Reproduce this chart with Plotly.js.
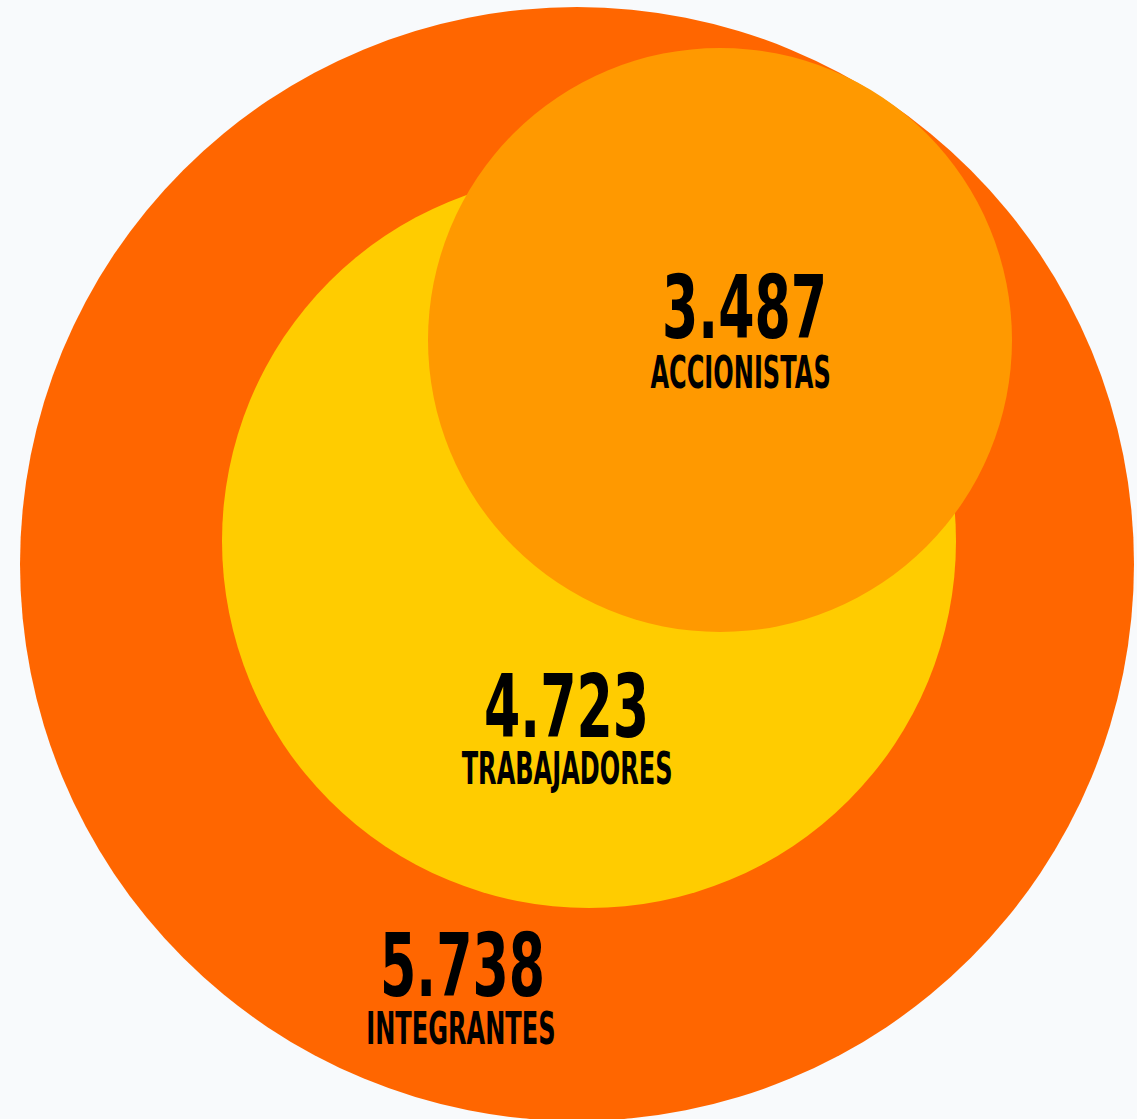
<!DOCTYPE html>
<html>
<head>
<meta charset="utf-8">
<script src="https://cdn.plot.ly/plotly-3.0.1.min.js"></script>
<style>
html,body{margin:0;padding:0;background:#F8FAFC;}
#chart{width:1137px;height:1119px;}
</style>
</head>
<body>
<div id="chart"></div>
<script>
// Data
const categories = ['INTEGRANTES', 'TRABAJADORES', 'ACCIONISTAS'];
const values = [5738, 4723, 3487];
const colors = ['#FF6600', '#FFCC00', '#FF9900'];

// Layout geometry (circle centre / radius in plot units, label anchors)
const circleCx = [577, 589, 720];
const circleCy = [564, 541, 340];
const circleR  = [557, 367, 292];
const numberX  = [462, 566, 744];
const numberY  = [966, 707, 308];
const nameX    = [461, 567, 740];
const nameY    = [1028, 768, 372];

const NUM_SIZE = 87, NAME_SIZE = 45;
const NUM_SQUEEZE = 0.60, NAME_SQUEEZE = 0.535;

function fmt(v) {
  return String(v).replace(/\B(?=(\d{3})+(?!\d))/g, '.');
}

const FONT = '"DejaVu Sans", "Liberation Sans", sans-serif';

const shapes = categories.map((c, i) => ({
  type: 'circle', xref: 'x', yref: 'y',
  x0: circleCx[i] - circleR[i], x1: circleCx[i] + circleR[i],
  y0: circleCy[i] - circleR[i], y1: circleCy[i] + circleR[i],
  fillcolor: colors[i], line: {width: 0}, layer: 'below'
}));

const annotations = [];
const squeeze = [];
categories.forEach((c, i) => {
  annotations.push({
    x: numberX[i], y: numberY[i], xref: 'x', yref: 'y',
    text: '<b>' + fmt(values[i]) + '</b>', showarrow: false,
    xanchor: 'center', yanchor: 'middle',
    font: {family: FONT, size: NUM_SIZE, color: '#000000'}
  });
  squeeze.push(NUM_SQUEEZE);
  annotations.push({
    x: nameX[i], y: nameY[i], xref: 'x', yref: 'y',
    text: '<b>' + c + '</b>', showarrow: false,
    xanchor: 'center', yanchor: 'middle',
    font: {family: FONT, size: NAME_SIZE, color: '#000000'}
  });
  squeeze.push(NAME_SQUEEZE);
});

const data = [{
  type: 'scatter', mode: 'markers',
  x: circleCx, y: circleCy,
  marker: {size: 1, opacity: 0},
  hoverinfo: 'skip', showlegend: false
}];

const layout = {
  width: 1137, height: 1119,
  margin: {l: 0, r: 0, t: 0, b: 0},
  paper_bgcolor: '#F8FAFC', plot_bgcolor: '#F8FAFC',
  xaxis: {range: [0, 1137], visible: false, fixedrange: true},
  yaxis: {range: [1119, 0], visible: false, fixedrange: true},
  shapes: shapes,
  annotations: annotations,
  showlegend: false
};

Plotly.newPlot('chart', data, layout, {displayModeBar: false, staticPlot: true}).then(function (gd) {
  // condensed look: squeeze each label horizontally around its own centre
  gd.querySelectorAll('.annotation').forEach(function (g) {
    const idx = +g.getAttribute('data-index');
    const t = g.querySelector('.annotation-text');
    if (!t) return;
    t.style.transformBox = 'fill-box';
    t.style.transformOrigin = 'center';
    t.style.transform = 'scaleX(' + squeeze[idx] + ')';
  });
});
</script>
</body>
</html>
